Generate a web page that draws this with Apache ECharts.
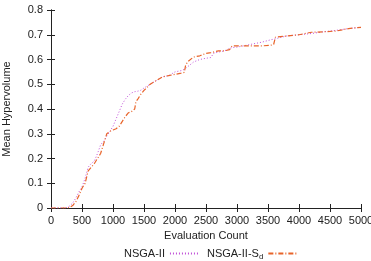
<!DOCTYPE html>
<html><head><meta charset="utf-8">
<script src="https://cdn.jsdelivr.net/npm/echarts@6/dist/echarts.min.js"></script>
<style>html,body{margin:0;padding:0;background:#fff}#c{width:371px;height:261px}</style>
</head><body><div id="c"></div>
<script>
const evals = [0,100,200,250,300,350,400,450,500,550,600,650,700,750,800,850,900,950,1000,1050,1100,1150,1200,1250,1300,1350,1370,1400,1450,1500,1600,1700,1800,1900,2000,2100,2150,2170,2200,2300,2400,2500,2580,2620,2700,2800,2880,2920,3000,3200,3400,3550,3590,3620,3800,4000,4200,4400,4600,4800,5000];
const nsga2 = [0,0,0,0.002,0.008,0.02,0.04,0.065,0.085,0.12,0.165,0.18,0.19,0.22,0.255,0.27,0.29,0.31,0.33,0.36,0.39,0.42,0.44,0.455,0.465,0.47,0.47,0.472,0.476,0.485,0.5,0.515,0.53,0.535,0.55,0.555,0.56,0.563,0.57,0.59,0.6,0.605,0.608,0.625,0.63,0.635,0.645,0.648,0.65,0.66,0.67,0.68,0.682,0.685,0.695,0.7,0.705,0.712,0.718,0.725,0.73];
const nsga2sd = [0,0,0,0,0.002,0.01,0.025,0.05,0.08,0.1,0.15,0.165,0.18,0.2,0.22,0.26,0.3,0.31,0.315,0.32,0.33,0.35,0.37,0.385,0.39,0.4,0.43,0.44,0.46,0.475,0.5,0.515,0.53,0.535,0.54,0.545,0.548,0.575,0.59,0.61,0.615,0.625,0.628,0.63,0.635,0.635,0.64,0.655,0.655,0.655,0.655,0.658,0.66,0.69,0.695,0.7,0.71,0.712,0.715,0.725,0.73];
const seriesNames = ['NSGA-II','NSGA-II-S_d'];

const font = 'Liberation Sans, Arial, sans-serif';
const chart = echarts.init(document.getElementById('c'), null, {renderer:'canvas'});
const pair = arr => evals.map((x,i)=>[x,arr[i]]);
const axisLine = {show:true, lineStyle:{color:'#222', width:1}};
const tick = {show:true, inside:true, length:4, lineStyle:{color:'#222'}};
chart.setOption({
  animation:false,
  grid:{left:51,right:10,top:10,bottom:53, containLabel:false, outerBoundsMode:'none'},
  legend:{
    show:true, orient:'horizontal', top:243, left:119, align:'right', itemWidth:30, itemHeight:10, itemGap:6,
    itemStyle:{opacity:0},
    textStyle:{fontFamily:font,fontSize:11,color:'#222',rich:{sub:{fontSize:8,verticalAlign:'bottom',padding:[6,0,0,0],fontFamily:font,color:'#222'}}},
    formatter: n => n==='NSGA-II-S_d' ? 'NSGA-II-S{sub|d}' : n,
    data: seriesNames
  },
  xAxis:[{
    type:'value', min:0, max:5000, interval:500,
    name:'Evaluation Count', nameLocation:'middle', nameGap:22,
    nameTextStyle:{fontFamily:font,fontSize:11,color:'#222'},
    axisLine, axisTick:tick, splitLine:{show:false},
    axisLabel:{fontFamily:font,fontSize:11,color:'#222',margin:7, formatter:v=>String(v)}
  },{
    type:'value', position:'top', min:0, max:5000, interval:500,
    axisLine, axisTick:tick, axisLabel:{show:false}, splitLine:{show:false}
  }],
  yAxis:[{
    type:'value', min:0, max:0.8, interval:0.1,
    name:'Mean Hypervolume', nameLocation:'middle', nameGap:39,
    nameTextStyle:{fontFamily:font,fontSize:11,color:'#222'},
    axisLine, axisTick:tick, splitLine:{show:false},
    axisLabel:{fontFamily:font,fontSize:11,color:'#222',margin:8, formatter:v=> v===0?'0':v.toFixed(1)}
  },{
    type:'value', position:'right', min:0, max:0.8, interval:0.1,
    axisLine, axisTick:tick, axisLabel:{show:false}, splitLine:{show:false}
  }],
  series:[
    {name:seriesNames[0], type:'line', data:pair(nsga2), showSymbol:false, symbol:'none',
     lineStyle:{color:'#c050d8', width:1, type:[1,2]}, itemStyle:{color:'#c050d8'}},
    {name:seriesNames[1], type:'line', data:pair(nsga2sd), showSymbol:false, symbol:'none',
     lineStyle:{color:'#e8642a', width:1.2, type:[5,2,1,2]}, itemStyle:{color:'#e8642a'}}
  ]
});
</script></body></html>
